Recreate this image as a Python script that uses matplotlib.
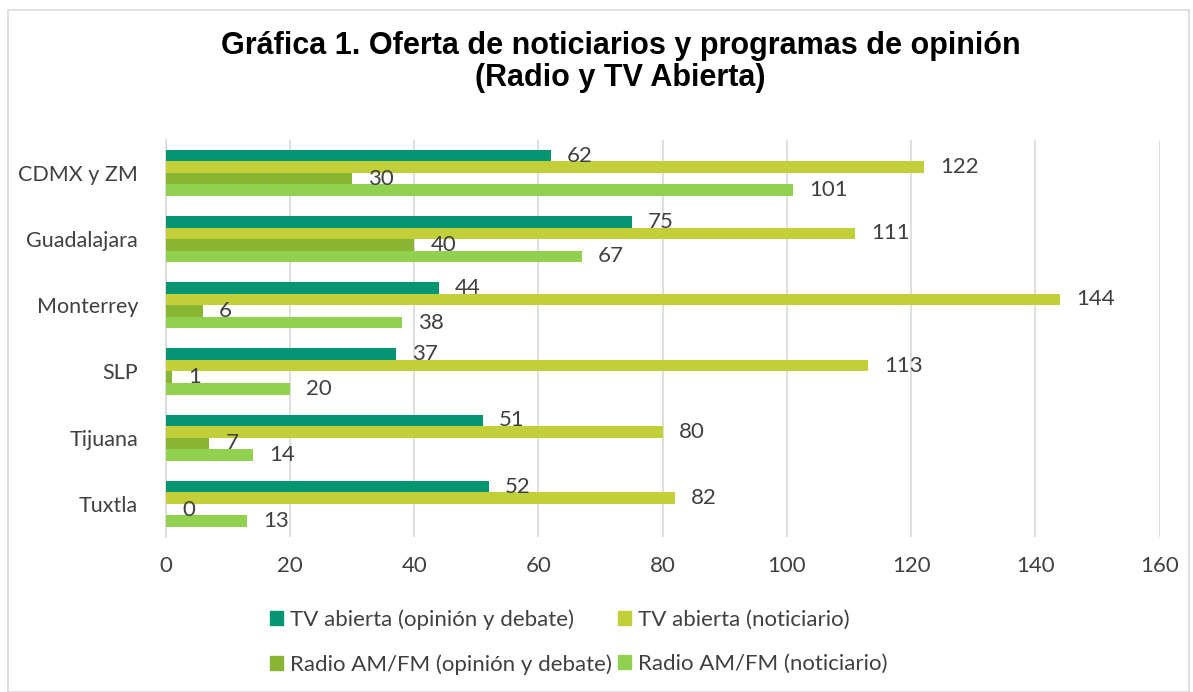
import matplotlib.pyplot as plt
import matplotlib.patches as mpatches
import numpy as np

cities = ['CDMX y ZM', 'Guadalajara', 'Monterrey', 'SLP', 'Tijuana', 'Tuxtla']
tv_opinion = [62, 75, 44, 37, 51, 52]
tv_noticiario = [122, 111, 144, 113, 80, 82]
radio_opinion = [30, 40, 6, 1, 7, 0]
radio_noticiario = [101, 67, 38, 20, 14, 13]

series = [
    ('TV abierta (opinión y debate)', tv_opinion, '#039572'),
    ('TV abierta (noticiario)', tv_noticiario, '#C2CF38'),
    ('Radio AM/FM (opinión y debate)', radio_opinion, '#8AB533'),
    ('Radio AM/FM (noticiario)', radio_noticiario, '#92D050'),
]

plt.rcParams['font.family'] = ['Lato', 'DejaVu Sans']
text_col = '#404040'
fs = 16

fig = plt.figure(figsize=(11.93, 6.92), dpi=100)
ax = fig.add_axes([0.139, 0.224, 0.833, 0.574])

# light frame around the whole chart
fig.patches.append(mpatches.Rectangle((0.007, 0.0), 0.99, 0.985, transform=fig.transFigure,
                                      fill=False, edgecolor='#D9D9D9', linewidth=1.2))

y = np.arange(len(cities))
h = 0.175
for i, (name, vals, col) in enumerate(series):
    pos = y - 1.5 * h + i * h
    ax.barh(pos, vals, height=h, color=col, label=name, zorder=3)
    for p, v in zip(pos, vals):
        ax.text(v + 2.6, p, str(v), va='center', ha='left', fontsize=fs,
                color=text_col, zorder=4)

ax.set_ylim(len(cities) - 0.5, -0.5)
ax.set_xlim(0, 160)
ax.set_xticks(range(0, 161, 20))
ax.set_yticks(y)
ax.set_yticklabels(cities)
ax.tick_params(axis='both', length=0, labelsize=fs, labelcolor=text_col)
ax.tick_params(axis='y', labelsize=15.5)
ax.tick_params(axis='x', pad=14)
ax.tick_params(axis='y', pad=20)
ax.grid(axis='x', color='#D9D9D9', linewidth=1.2, zorder=0)
for s in ['top', 'right', 'bottom']:
    ax.spines[s].set_visible(False)
ax.spines['left'].set_color('#D9D9D9')
ax.spines['left'].set_linewidth(1.2)

fig.text(0.52, 0.955, 'Gráfica 1. Oferta de noticiarios y programas de opinión\n(Radio y TV Abierta)',
         ha='center', va='top', fontsize=22, fontweight='bold',
         family=['Liberation Sans', 'DejaVu Sans'], linespacing=1.1)

# legend fills column-wise, so reorder to get the row layout of the original
handles = [mpatches.Patch(color=c, label=n) for n, _, c in series]
handles = [handles[0], handles[2], handles[1], handles[3]]
fig.legend(handles=handles, ncol=2, loc='lower center', bbox_to_anchor=(0.485, -0.004),
           frameon=False, fontsize=fs, labelcolor=text_col, handlelength=0.6,
           handleheight=0.6, handletextpad=0.3, columnspacing=0.3, labelspacing=1.1)

fig.savefig('out.png', dpi=100)
